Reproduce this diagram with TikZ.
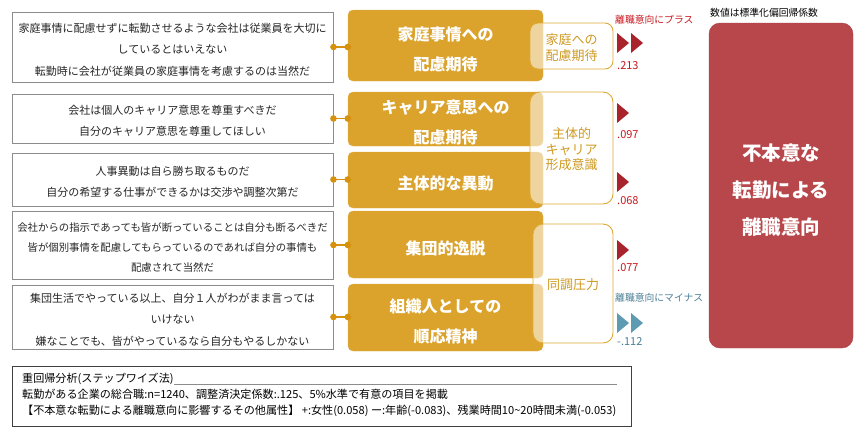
\documentclass[tikz,border=0pt]{standalone}
\usepackage{fontspec}
\setmainfont{Noto Sans CJK JP}
\usetikzlibrary{calc}
\definecolor{gold}{HTML}{DBA32B}
\definecolor{dotc}{HTML}{D6920F}
\definecolor{brk}{HTML}{DDAA35}
\definecolor{brktext}{HTML}{CF9A22}
\definecolor{redbox}{HTML}{B8474B}
\definecolor{tric}{HTML}{A8232B}
\definecolor{redtxt}{HTML}{C8161E}
\definecolor{bluetri}{HTML}{5E9BB2}
\definecolor{bluetxt}{HTML}{4A7E95}
\definecolor{boxgray}{HTML}{8C8C8C}
\newcommand\mytri[3]{\fill[#3] (#1,#2) -- ++(12,10) -- ++(-12,10) -- cycle;}
\begin{document}
\begin{tikzpicture}[x=1pt,y=-1pt,
 itembox/.style={draw=boxgray,line width=0.9pt,fill=white,minimum width=321pt,inner sep=0pt},
 itemtext/.style={inner sep=0pt,align=center,text=black!85,font=\fontsize{11}{21.5}\selectfont},
 factor/.style={fill=gold,draw=gold!85!white,rounded corners=5pt,minimum width=195pt,inner sep=0pt},
 factortext/.style={inner sep=0pt,align=center,text=white,font=\bfseries\fontsize{16}{30}\selectfont},
 bracket/.style={draw=brk,line width=0.9pt,fill=white,fill opacity=0.55,rounded corners=10pt,inner sep=0pt},
 brackettext/.style={inner sep=0pt,align=center,text=brktext,font=\fontsize{13}{15.5}\selectfont},
 conn/.style={draw=dotc,line width=1.2pt},
 dot/.style={fill=dotc},
 coef/.style={anchor=west,inner sep=0pt,font=\fontsize{11}{12}\selectfont},
 small/.style={anchor=west,inner sep=0pt,font=\fontsize{9.8}{12}\selectfont},
 target/.style={fill=redbox,draw=redbox!90!black,rounded corners=11pt,minimum width=144pt,minimum height=325pt,inner sep=0pt},
 targettext/.style={inner sep=0pt,align=center,text=white,font=\bfseries\fontsize{19.5}{37}\selectfont},
 notebox/.style={draw=black!75,line width=0.9pt,fill=white,minimum width=619pt,minimum height=60pt,inner sep=0pt},
 noteline/.style={anchor=base west,inner sep=0pt,font=\fontsize{11.1}{12}\selectfont,text=black}
]
\useasboundingbox (0,0) rectangle (864,440);

% left item boxes
\node[itembox,minimum height=70pt] (L1) at (172.5,47) {};
\node[itemtext] (L1t) at ($(L1)+(0,2.5)$) {家庭事情に配慮せずに転勤させるような会社は従業員を大切に\\しているとはいえない\\転勤時に会社が従業員の家庭事情を考慮するのは当然だ};
\node[itembox,minimum height=49pt] (L2) at (172.5,118.5) {};
\node[itemtext] (L2t) at ($(L2)+(0,2.5)$) {会社は個人のキャリア意思を尊重すべきだ\\自分のキャリア意思を尊重してほしい};
\node[itembox,minimum height=53pt] (L3) at (172.5,179.5) {};
\node[itemtext] (L3t) at ($(L3)+(0,2.5)$) {人事異動は自ら勝ち取るものだ\\自分の希望する仕事ができるかは交渉や調整次第だ};
\node[itembox,minimum height=68pt] (L4) at (172.5,245) {};
\node[itemtext,font=\fontsize{10.4}{20}\selectfont] (L4t) at ($(L4)+(0,2.5)$) {会社からの指示であっても皆が断っていることは自分も断るべきだ\\皆が個別事情を配慮してもらっているのであれば自分の事情も\\配慮されて当然だ};
\node[itembox,minimum height=64pt] (L5) at (172.5,317) {};
\node[itemtext] (L5t) at ($(L5)+(0,2.5)$) {集団生活でやっている以上、自分１人がわがまま言っては\\いけない\\嫌なことでも、皆がやっているなら自分もやるしかない};

% factor boxes
\node[factor,minimum height=71pt] (O1) at (445.5,45.5) {};
\node[factortext] (O1t) at ($(O1)+(0,3.5)$) {家庭事情への\\配慮期待};
\node[factor,minimum height=54pt] (O2) at (445.5,119) {};
\node[factortext] (O2t) at ($(O2)+(0,3.5)$) {キャリア意思への\\配慮期待};
\node[factor,minimum height=56pt] (O3) at (445.5,180) {};
\node[factortext] (O3t) at ($(O3)+(0,3.5)$) {主体的な異動};
\node[factor,minimum height=67pt] (O4) at (445.5,244.5) {};
\node[factortext] (O4t) at ($(O4)+(0,3.5)$) {集団的逸脱};
\node[factor,minimum height=67pt] (O5) at (445.5,317.5) {};
\node[factortext] (O5t) at ($(O5)+(0,3.5)$) {組織人としての\\順応精神};

% connectors
\foreach \i in {1,...,5}{
  \draw[conn] (L\i.east) -- (L\i.east -| O\i.west);
  \fill[dot] (L\i.east) circle (3.3pt);
  \fill[dot] (L\i.east -| O\i.west) circle (3.3pt);
}

% bracket boxes
\node[bracket,minimum width=83pt,minimum height=46pt,rounded corners=8pt] (B1) at (571.5,46) {};
\node[brackettext] (B1t) at ($(B1)+(0,1.5)$) {家庭への\\配慮期待};
\node[bracket,minimum width=83pt,minimum height=112pt] (B2) at (571.5,148) {};
\node[brackettext] (B2t) at ($(B2)+(0,1.5)$) {主体的\\キャリア\\形成意識};
\node[bracket,minimum width=80pt,minimum height=119pt] (B3) at (573,283.5) {};
\node[brackettext] (B3t) at ($(B3)+(0,1.5)$) {同調圧力};

% effect markers
\node[small,text=redtxt] (plus) at (615,20) {離職意向にプラス};
\mytri{617}{33}{tric}\mytri{631}{33}{tric}
\node[coef,text=redtxt] (c1) at (617,66) {.213};
\mytri{617}{103}{tric}
\node[coef,text=redtxt] (c2) at (617,135) {.097};
\mytri{617}{172}{tric}
\node[coef,text=redtxt] (c3) at (617,201) {.068};
\mytri{617}{240}{tric}
\node[coef,text=redtxt] (c4) at (617,268) {.077};
\node[small,text=bluetxt] (minus) at (615,298) {離職意向にマイナス};
\mytri{617}{313}{bluetri}\mytri{631}{313}{bluetri}
\node[coef,text=bluetxt] (c5) at (617,342) {-.112};

% target
\node[small,text=black] (cap) at (710,13) {数値は標準化偏回帰係数};
\node[target] (T) at (781,185.5) {};
\node[targettext] (Tt) at ($(T)+(0,4.5)$) {不本意な\\転勤による\\離職意向};

% note box
\node[notebox] (N) at (321.5,396) {};
\node[noteline] (n1) at (22,382) {重回帰分析(ステップワイズ法)};
\node[noteline] (n2) at (22,398) {転勤がある企業の総合職:n=1240、調整済決定係数:.125、5\%水準で有意の項目を掲載};
\node[noteline] (n3) at (22,414) {【不本意な転勤による離職意向に影響するその他属性】 +:女性(0.058) ー:年齢(-0.083)、残業時間10\textasciitilde 20時間未満(-0.053)};
\coordinate (ulend) at (617,384);
\draw[black!45,line width=0.6pt] ($(n1.base east)+(0,2)$) -- ($(n1.base east -| ulend)+(0,2)$);
\end{tikzpicture}
\end{document}
